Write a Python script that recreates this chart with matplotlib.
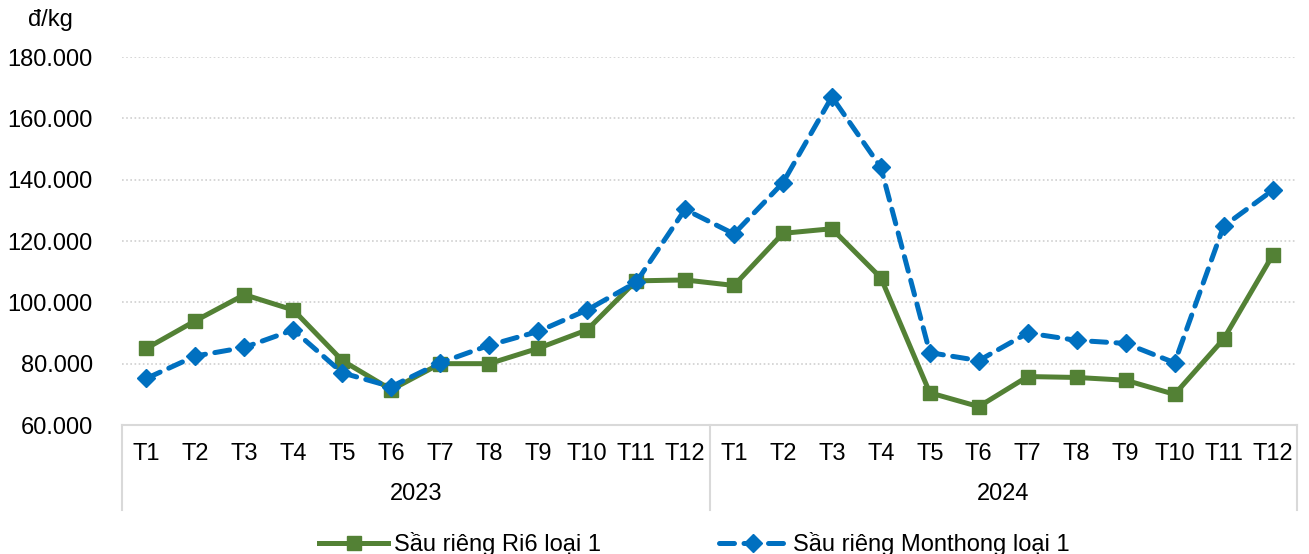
import numpy as np
import matplotlib
matplotlib.use("Agg")
import matplotlib.pyplot as plt
from matplotlib.transforms import blended_transform_factory

plt.rcParams['font.family'] = ['Liberation Sans', 'DejaVu Sans']

months = ['T1', 'T2', 'T3', 'T4', 'T5', 'T6', 'T7', 'T8', 'T9', 'T10', 'T11', 'T12']
years = ['2023', '2024']
# gia (nghin dong / kg)
ri6 = [85, 94, 102.5, 97.5, 81, 71.5, 80, 80, 85, 91, 107, 107.3,
       105.5, 122.5, 124, 108, 70.5, 66, 75.8, 75.5, 74.6, 70, 88, 115.3]
monthong = [75.2, 82.5, 85.3, 91, 77, 72.5, 80.3, 86, 90.5, 97.5, 106.5, 130.3,
            122.3, 139, 167, 144, 83.6, 81, 90, 87.6, 86.6, 80.3, 124.8, 136.5]
yticks = [60, 80, 100, 120, 140, 160, 180]

W, H = 1309, 554
fig = plt.figure(figsize=(W / 100, H / 100), dpi=100)
ax = fig.add_axes([122 / W, 1 - 425 / H, (1297 - 122) / W, (425 - 57) / H])

x = np.arange(len(ri6))
ax.plot(x, ri6, color='#538135', lw=3.6, marker='s', ms=9.5,
        label='Sầu riêng Ri6 loại 1', zorder=3)
ax.plot(x, monthong, color='#0070C0', lw=3.6, ls=(0, (3, 1.9)),
        dash_capstyle='round', marker='D', ms=9.5,
        label='Sầu riêng Monthong loại 1', zorder=4)

ax.set_xlim(-0.5, len(ri6) - 0.5)
ax.set_ylim(60, 180)
ax.set_yticks(yticks)
ax.set_yticklabels([f"{v * 1000:,.0f}".replace(',', '.') for v in yticks], fontsize=17)
ax.set_xticks(x)
ax.set_xticklabels(months * 2, fontsize=17)
ax.tick_params(axis='y', length=0, pad=21)
ax.tick_params(axis='x', length=0, pad=13)

for v in yticks[1:]:
    ax.axhline(v, color='#D0D0D0', lw=1.2, ls=(0, (1, 1.5)), zorder=1)

for s in ['top', 'right', 'left']:
    ax.spines[s].set_visible(False)
ax.spines['bottom'].set_color('#D9D9D9')
ax.spines['bottom'].set_linewidth(1.5)

trans = blended_transform_factory(ax.transData, ax.transAxes)
for xv in [-0.5, 11.5, 23.5]:
    ax.plot([xv, xv], [0, -85 / 368], color='#D9D9D9', lw=1.5,
            transform=trans, clip_on=False)
for i, yr in enumerate(years):
    ax.text(i * 12 + 5.5, -69 / 368, yr, transform=trans, ha='center',
            va='center', fontsize=17)

fig.text(50 / W, 1 - 20 / H, 'đ/kg', ha='center', va='center', fontsize=17)

fig.legend(loc='center', bbox_to_anchor=(0.5 + 40 / W, 1 - 544 / H), ncol=2,
           frameon=False, fontsize=17, handlelength=2.9, handletextpad=0.25,
           columnspacing=5.0)

fig.savefig('out.png', dpi=100)
